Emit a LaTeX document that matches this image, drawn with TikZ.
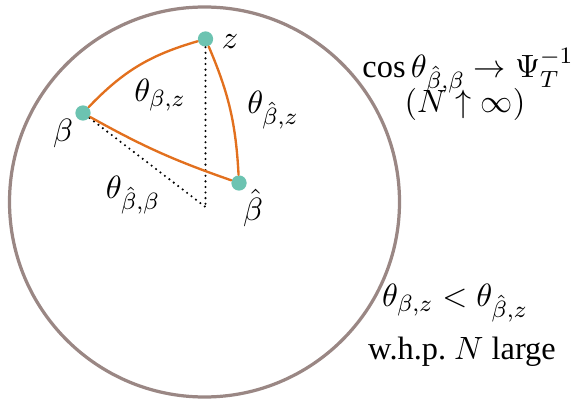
\documentclass[tikz,border=0pt]{standalone}
\usepackage{amsmath}
\usepackage{fontspec}
\setmainfont{Liberation Serif}
\usepackage{tikz}
\definecolor{rim}{HTML}{9A8784}
\definecolor{geo}{HTML}{E2701E}
\definecolor{teal}{HTML}{6CC3B1}
\tikzset{
  every picture/.style={line join=round, line cap=round},
  sphere/.style={draw=rim, line width=1.1pt},
  geod/.style={draw=geo, line width=0.8pt},
  proj/.style={line width=0.8pt, dash pattern=on 0pt off 1.9pt},
  ptdot/.style={circle, fill=teal, inner sep=0pt, minimum size=5.2pt},
  lab/.style={font=\fontsize{11}{13}\selectfont, inner sep=0.5pt},
}

\begin{document}
\begin{tikzpicture}[x=0.34pt,y=0.34pt]
\useasboundingbox (0,0) rectangle (579,400);
\draw[sphere] (204.5,198) circle (195);
\coordinate (o) at (205.5,193);
\node[ptdot] (z) at (205.5,361) {};
\node[ptdot] (b) at (83,287) {};
\node[ptdot] (bh) at (239,217) {};
\draw[proj] (z) -- (o);
\draw[proj] (b) -- (o);
\draw[geod] (b) to[bend left=15] (z);
\draw[geod] (z) to[bend left=10] (bh);
\draw[geod] (b) to[bend right=5] (bh);
\node[lab] (zl) at (230,358) {$z$};
\node[lab] (bl) at (63,267) {$\beta$};
\node[lab] (bhl) at (253,192) {$\hat\beta$};
\node[lab] (tbz) at (160,305) {$\theta_{\beta,z}$};
\node[lab] (tbhz) at (273,290) {$\theta_{\hat\beta,z}$};
\node[lab] (tbhb) at (133,205) {$\theta_{\hat\beta,\beta}$};
\node[lab] (lim) at (468,329) {$\cos\theta_{\hat\beta,\beta}\to\Psi_T^{-1}$};
\node[lab] (lim2) at (465,296) {$(N\uparrow\infty)$};
\node[lab] (ineq) at (455,97) {$\theta_{\beta,z}<\theta_{\hat\beta,z}$};
\node[lab] (whp) at (462,48) {w.h.p.\ $N$ large};
\end{tikzpicture}
\end{document}
